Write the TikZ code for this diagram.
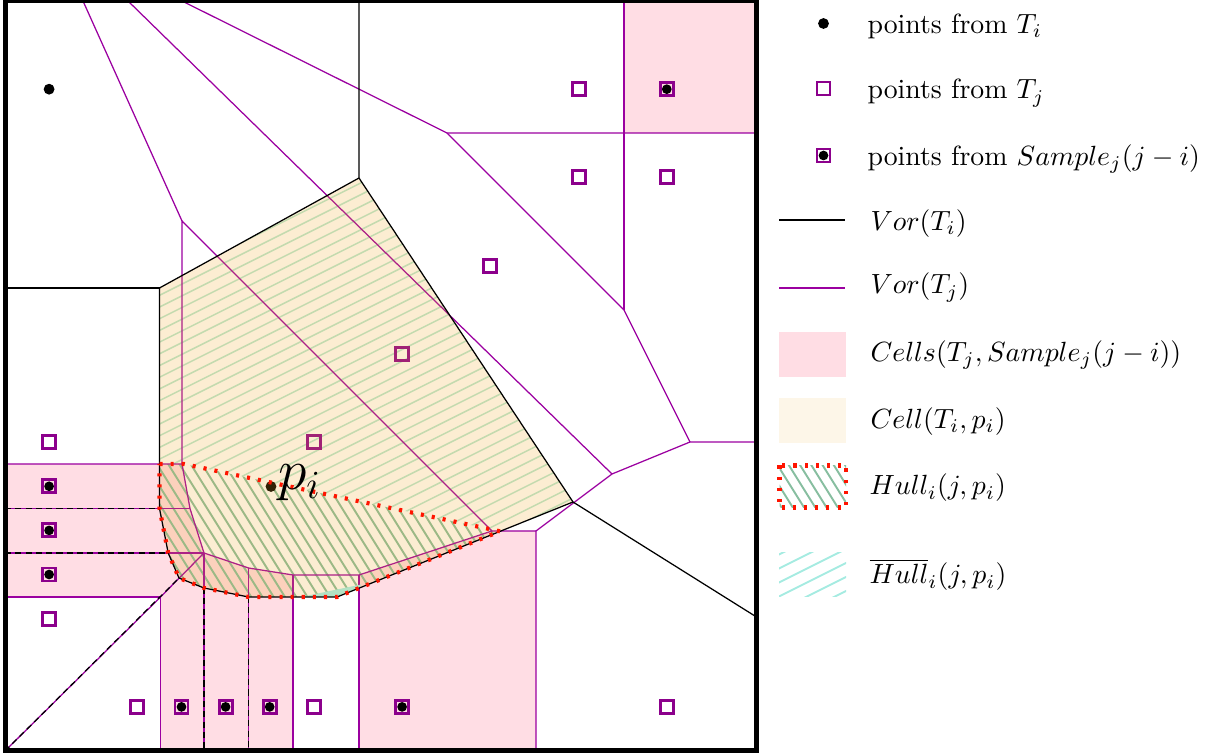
\documentclass[tikz,border=0pt]{standalone}
\definecolor{cellpink}{RGB}{255,221,228}
\definecolor{cellorange}{RGB}{240,165,30}
\definecolor{jpurple}{RGB}{155,0,160}
\definecolor{sqpurple}{RGB}{140,0,140}
\definecolor{hullred}{RGB}{255,20,0}
\definecolor{hatchlight}{RGB}{185,232,212}
\definecolor{hatchdark}{RGB}{135,190,160}
\definecolor{hatchcyan}{RGB}{165,235,225}
\definecolor{hullmint}{RGB}{178,226,196}
\begin{document}
\begin{tikzpicture}[x=0.36pt,y=-0.36pt,
  iline/.style={black,line width=0.45pt},
  ishared/.style={black,line width=0.45pt,dash pattern=on 2.2pt off 1.5pt},
  jline/.style={draw=jpurple,line width=0.45pt},
  tisite/.style={circle,fill=black,inner sep=0pt,minimum size=3.9pt},
  tjsite/.style={rectangle,draw=sqpurple,line width=1.05pt,inner sep=0pt,minimum size=4.7pt},
  sample/.style={tjsite,path picture={\fill[black] (path picture bounding box.center) circle[radius=1.75pt];}},
  lighthatch/.style={draw=hatchlight,line width=0.55pt},
  darkhatch/.style={draw=hatchdark,line width=0.7pt},
  hullborder/.style={draw=hullred,line width=1.5pt,dash pattern=on 1.1pt off 2.9pt},
  cellfill/.style={fill=cellorange,fill opacity=0.2},
  lbl/.style={anchor=base west,inner sep=0pt}
]
\useasboundingbox (0,0) rectangle (1207,756);

% ---- vertices of Vor(T_j)
\coordinate (v1) at (182,221);
\coordinate (v2) at (447,133);
\coordinate (v3) at (624,310);
\coordinate (v4) at (690,442);
\coordinate (v5) at (612,474);
\coordinate (v6) at (536,531);
\coordinate (v7) at (492,531);
\coordinate (v8) at (182,464);
\coordinate (v9) at (190,508.5);
\coordinate (v10) at (204,553);
\coordinate (v11) at (160.5,597);
\coordinate (v12) at (248.5,568);
\coordinate (v13) at (293,575);
\coordinate (v14) at (359,575);
% ---- cell of p_i in Vor(T_i)
\coordinate (c1) at (359,178);
\coordinate (c2) at (573,502);
\coordinate (c3) at (337,597);
\coordinate (c4) at (248.5,597);
\coordinate (c5) at (204,588);
\coordinate (c6) at (179,578);
\coordinate (c7) at (168.2,553);
\coordinate (c8) at (159.5,508.5);
\coordinate (c9) at (159.5,288);
% ---- hull corners
\coordinate (h1) at (159.5,464);
\coordinate (h2) at (184,464);
\coordinate (h3) at (500,531.3);
% ---- ends of the edges on the frame
\coordinate (t1) at (83,1);
\coordinate (t2) at (128,1);
\coordinate (t3) at (182,1);
\coordinate (t4) at (624,1);
\coordinate (t5) at (359,1);
\coordinate (r1) at (756.5,133);
\coordinate (r2) at (756.5,442);
\coordinate (r3) at (756.5,617);
\coordinate (l1) at (5,288);
\coordinate (l2) at (5,464);
\coordinate (l3) at (5,508.5);
\coordinate (l4) at (5,553);
\coordinate (l5) at (5,597);
\coordinate (o) at (5,751);
\coordinate (b1) at (160.5,751);
\coordinate (b2) at (204,751);
\coordinate (b3) at (248.5,751);
\coordinate (b4) at (293,751);
\coordinate (b5) at (359,751);
\coordinate (b6) at (536,751);

% ---- cells of the sampled points of T_j
\fill[cellpink] (t4) rectangle (r1);
\fill[cellpink] (l2) -- (v8) -- (v9) -- (l3) -- cycle;
\fill[cellpink] (l3) -- (v9) -- (v10) -- (l4) -- cycle;
\fill[cellpink] (l4) -- (v10) -- (v11) -- (l5) -- cycle;
\fill[cellpink] (v11) -- (v10) -- (b2) -- (b1) -- cycle;
\fill[cellpink] (v10) -- (v12) -- (b3) -- (b2) -- cycle;
\fill[cellpink] (v12) -- (v13) -- (b4) -- (b3) -- cycle;
\fill[cellpink] (v14) -- (v7) -- (v6) -- (b6) -- (b5) -- cycle;

% ---- hatching: complement of the hull inside the cell
\begin{scope}
  \clip (c9) -- (c1) -- (c2) -- (h3) -- (h2) -- (h1) -- cycle;
  \foreach \k in {0,...,40}{
    \draw[lighthatch] (140,{340+11.7*\k-70}) -- (600,{340+11.7*\k-300});
  }
\end{scope}
% ---- hatching: the hull
\begin{scope}
  \clip (h1) -- (h2) -- (h3) -- (c3) -- (c4) -- (c5) -- (c6) -- (c7) -- (c8) -- cycle;
  \foreach \k in {0,...,40}{
    \draw[darkhatch] ({(455+345-18*\k)/1.6},455) -- ({(605+345-18*\k)/1.6},605);
  }
\end{scope}

% ---- Vor(T_j)
\draw[jline] (t1) -- (v1);
\draw[jline] (t2) -- (v5);
\draw[jline] (t3) -- (v2) -- (r1);
\draw[jline] (t4) -- (v3);
\draw[jline] (v2) -- (v3) -- (v4) -- (r2);
\draw[jline] (v4) -- (v5) -- (v6) -- (b6);
\draw[jline] (v6) -- (v7) -- (v1) -- (v8) -- (l2);
\draw[jline] (v8) -- (v9) -- (v10);
\draw[jline] (l3) -- (v9);
\draw[jline] (l4) -- (v10);
\draw[jline] (l5) -- (v11);
\draw[jline] (o) -- (v11) -- (v10);
\draw[jline] (v11) -- (b1);
\draw[jline] (v10) -- (b2);
\draw[jline] (v10) -- (v12) -- (v13) -- (v14) -- (v7);
\draw[jline] (v12) -- (b3);
\draw[jline] (v13) -- (b4);
\draw[jline] (v14) -- (b5);

% ---- points of T_j (squares) and of the sample (squares with dots)
\node[tjsite] (q1) at (578.6,89.2) {};
\node[sample] (s1) at (666.8,89.2) {};
\node[tjsite] (q2) at (578.6,177.4) {};
\node[tjsite] (q3) at (666.8,177.4) {};
\node[tjsite] (q4) at (490.3,265.7) {};
\node[tjsite] (q5) at (402.1,353.9) {};
\node[tjsite] (q6) at (313.8,442.2) {};
\node[tjsite] (q7) at (49.1,442.2) {};
\node[sample] (s2) at (49.1,486.3) {};
\node[sample] (s3) at (49.1,530.4) {};
\node[sample] (s4) at (49.1,574.5) {};
\node[tjsite] (q8) at (49.1,618.6) {};
\node[tjsite] (q9) at (137.4,706.9) {};
\node[sample] (s5) at (181.5,706.9) {};
\node[sample] (s6) at (225.6,706.9) {};
\node[sample] (s7) at (269.7,706.9) {};
\node[tjsite] (q10) at (313.8,706.9) {};
\node[sample] (s8) at (402.1,706.9) {};
\node[tjsite] (q11) at (666.8,706.9) {};
% ---- points of T_i
\node[tisite] (a1) at (49.1,89.2) {};
\node[tisite] (pi) at (271,486.5) {};

% ---- Cell(T_i, p_i)
\fill[cellfill] (c1) -- (c2) -- (c3) -- (c4) -- (c5) -- (c6) -- (c7) -- (c8) -- (c9) -- cycle;
\fill[hullmint] (301,597) -- (c3) -- (359.5,588) -- (361,584.5) -- cycle;

% ---- Vor(T_i)
\draw[iline] (t5) -- (c1) -- (c2) -- (r3);
\draw[iline] (c2) -- (c3) -- (c4) -- (c5) -- (c6) -- (c7) -- (c8) -- (c9) -- (c1);
\draw[iline] (l1) -- (c9);
\draw[ishared] (l3) -- (c8);
\draw[ishared] (l4) -- (c7);
\draw[ishared] (o) -- (c6);
\draw[ishared] (c5) -- (b2);
\draw[ishared] (c4) -- (b3);

% ---- Hull_i(j, p_i)
\draw[hullborder] (h1) -- (h2) -- (h3) -- (c3) -- (c4) -- (c5) -- (c6) -- (c7) -- (c8) -- cycle;

\node[lbl,font=\huge] (lpi) at (277.5,490) {$p_i$};

% ---- frame
\draw[line width=1.7pt] (5.3,1) rectangle (756.5,750.5);

% ---- legend
\node[tisite] (k1) at (823.5,23.5) {};
\node[lbl] (lt1) at (867,33.5) {points from $T_i$};
\node[tjsite] (k2) at (823.5,88.5) {};
\node[lbl] (lt2) at (867,99) {points from $T_j$};
\node[sample] (k3) at (823.5,155.5) {};
\node[lbl] (lt3) at (867,165.5) {points from $Sample_j(j-i)$};
\coordinate (k4a) at (779,220);
\coordinate (k4b) at (845,220);
\draw[iline] (k4a) -- (k4b);
\node[lbl] (lt4) at (870,230.5) {$Vor(T_i)$};
\coordinate (k5a) at (779,288);
\coordinate (k5b) at (845,288);
\draw[jline] (k5a) -- (k5b);
\node[lbl] (lt5) at (870,294) {$Vor(T_j)$};
\fill[cellpink] (779,332) rectangle (846,377);
\node[lbl] (lt6) at (870,361.7) {$Cells(T_j,Sample_j(j-i))$};
\fill[cellorange,fill opacity=0.1] (779,398) rectangle (846,443);
\node[lbl] (lt7) at (870,428.3) {$Cell(T_i,p_i)$};
\begin{scope}
  \clip (779.5,465.5) rectangle (846,507.5);
  \foreach \k in {0,...,10}{
    \draw[darkhatch] ({(455+905-18*\k)/1.6},455) -- ({(520+905-18*\k)/1.6},520);
  }
\end{scope}
\draw[hullborder] (779.5,465.5) rectangle (846,507.5);
\node[lbl] (lt8) at (869,495) {$Hull_i(j,p_i)$};
\begin{scope}
  \clip (779,553) rectangle (846,597);
  \foreach \k in {0,...,8}{
    \draw[draw=hatchcyan,line width=0.7pt] (770,{930+14*\k-385}) -- (855,{930+14*\k-427.5});
  }
\end{scope}
\node[lbl] (lt9) at (869,584) {$\overline{Hull}_i(j,p_i)$};
\end{tikzpicture}
\end{document}
